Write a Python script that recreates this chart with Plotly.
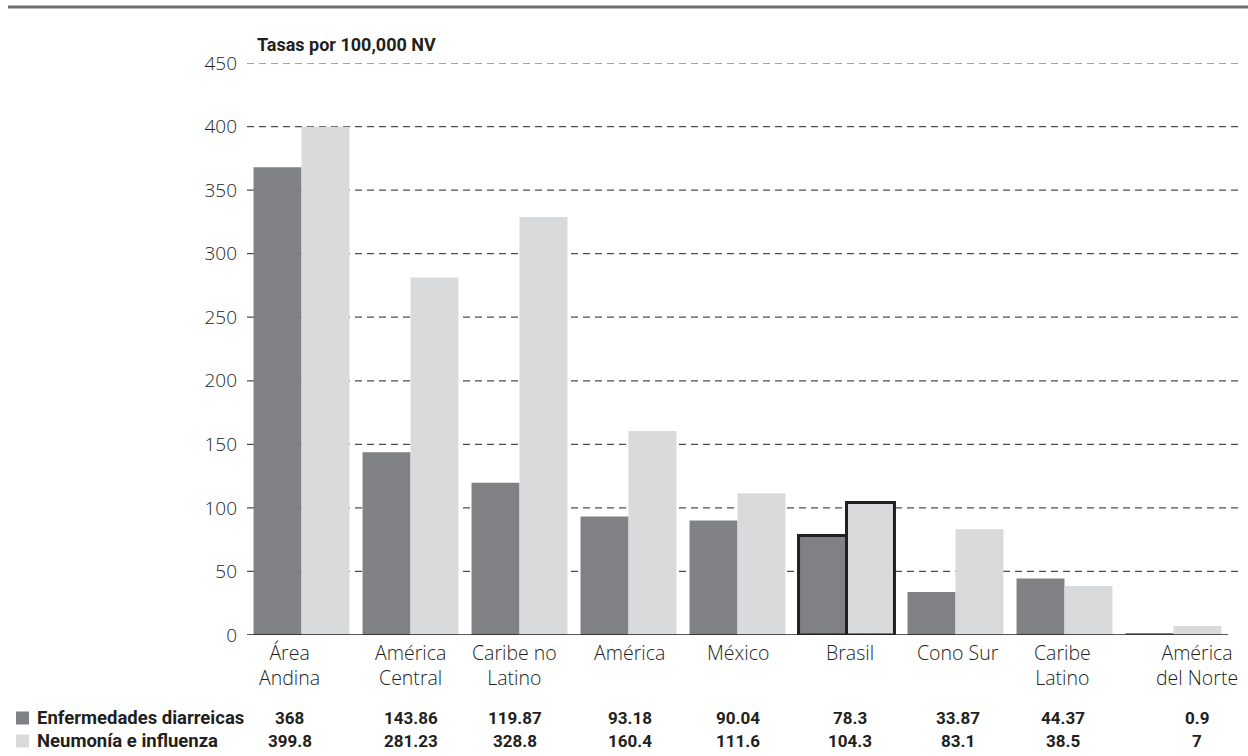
import plotly.graph_objects as go

# ---- data ----
categorias = ["Área Andina", "América Central", "Caribe no Latino", "América", "México",
              "Brasil", "Cono Sur", "Caribe Latino", "América del Norte"]
etiquetas = ["Área<br>Andina", "América<br>Central", "Caribe no<br>Latino", "América", "México",
             "Brasil", "Cono Sur", "Caribe<br>Latino", "América<br>del Norte"]
diarreicas = [368, 143.86, 119.87, 93.18, 90.04, 78.3, 33.87, 44.37, 0.9]
neumonia = [399.8, 281.23, 328.8, 160.4, 111.6, 104.3, 83.1, 38.5, 7]
diarreicas_txt = ["368", "143.86", "119.87", "93.18", "90.04", "78.3", "33.87", "44.37", "0.9"]
neumonia_txt = ["399.8", "281.23", "328.8", "160.4", "111.6", "104.3", "83.1", "38.5", "7"]
y_ticks = [0, 50, 100, 150, 200, 250, 300, 350, 400, 450]
serie_nombres = ["Enfermedades diarreicas", "Neumonía e influenza"]
resaltado = "Brasil"

# ---- style ----
DARK = "#808184"
LIGHT = "#d9dadb"
INK = "#231f20"
label_shift = [-12, 0, -5, 1, 0, 3, 2, -2, 23]   # px offsets of category labels / table columns

W, H = 1248, 756
L, R, T, B = 247, 5, 63, 121
plot_w = W - L - R
plot_h = H - T - B
cat_px = (1228 - L) / len(categorias)
x_max = -0.5 + plot_w / cat_px

x_idx = list(range(len(categorias)))
line_w = [3 if c == resaltado else 0 for c in categorias]

fig = go.Figure()
fig.add_bar(x=x_idx, y=diarreicas, name=serie_nombres[0], marker=dict(color=DARK, line=dict(color=INK, width=line_w)))
fig.add_bar(x=x_idx, y=neumonia, name=serie_nombres[1], marker=dict(color=LIGHT, line=dict(color=INK, width=line_w)))

fig.update_layout(
    width=W, height=H,
    margin=dict(l=L, r=R, t=T, b=B, pad=0),
    paper_bgcolor="white", plot_bgcolor="white",
    barmode="group", bargap=0.12, bargroupgap=0,
    showlegend=False,
    font=dict(family="Open Sans", color=INK),
)
fig.update_xaxes(range=[-0.5, x_max], showticklabels=False, showgrid=False, zeroline=False,
                 showline=False, ticks="")
fig.update_yaxes(range=[0, 450], tickvals=y_ticks, showgrid=False, zeroline=False, showline=False,
                 ticks="", ticklabelstandoff=9,
                 tickfont=dict(family="Open Sans", size=19, weight=300, color=INK))

# dashed gridlines
for v in y_ticks[1:]:
    fig.add_shape(type="line", xref="paper", yref="y", x0=0, x1=1, y0=v, y1=v, layer="below",
                  line=dict(color="#4d4d4f", width=1.2, dash="7px,5px"))
# baseline
fig.add_shape(type="line", xref="x", yref="y", x0=-0.5, x1=len(categorias) - 0.5, y0=0, y1=0,
              line=dict(color=INK, width=1.5), layer="above")
# top rule
fig.add_shape(type="line", xref="paper", yref="paper",
              x0=(8 - L) / plot_w, x1=(W - L) / plot_w,
              y0=(H - B - 7) / plot_h, y1=(H - B - 7) / plot_h,
              line=dict(color="#6d6e71", width=3))

# title
fig.add_annotation(text="<b>Tasas por 100,000 NV</b>", xref="paper", yref="paper",
                   x=(255 - L) / plot_w, y=(H - B - 44) / plot_h, xanchor="left", yanchor="middle",
                   showarrow=False, font=dict(family="Roboto", size=18, color=INK))

# category labels
for i, lab in enumerate(etiquetas):
    fig.add_annotation(text=lab, x=i, xref="x", y=0, yref="paper", xanchor="center", yanchor="top",
                       xshift=label_shift[i], yshift=-2, showarrow=False, align="center",
                       font=dict(family="Open Sans", size=19.5, weight=300, color=INK))

# table rows
rows = [(diarreicas_txt, 718, DARK), (neumonia_txt, 741, LIGHT)]
for (vals, ypx, col), nombre in zip(rows, serie_nombres):
    yp = (H - B - ypx) / plot_h
    for i, v in enumerate(vals):
        fig.add_annotation(text=f"<b>{v}</b>", x=i, xref="x", y=yp, yref="paper",
                           xanchor="center", yanchor="middle", xshift=label_shift[i], showarrow=False,
                           font=dict(family="Roboto", size=17, color=INK))
    fig.add_annotation(text=f"<b>{nombre}</b>", xref="paper", y=yp, yref="paper",
                       x=(35 - L) / plot_w, xanchor="left", yanchor="middle", showarrow=False,
                       font=dict(family="Roboto", size=18.5, color=INK))
    fig.add_shape(type="rect", xref="paper", yref="paper", line=dict(width=0), fillcolor=col,
                  x0=(16 - L) / plot_w, x1=(29 - L) / plot_w,
                  y0=(H - B - ypx - 6.5) / plot_h, y1=(H - B - ypx + 6.5) / plot_h)

fig.write_html("out.html", config={"displayModeBar": False},
               post_script="document.body.style.margin='0';document.body.style.overflow='hidden';")
